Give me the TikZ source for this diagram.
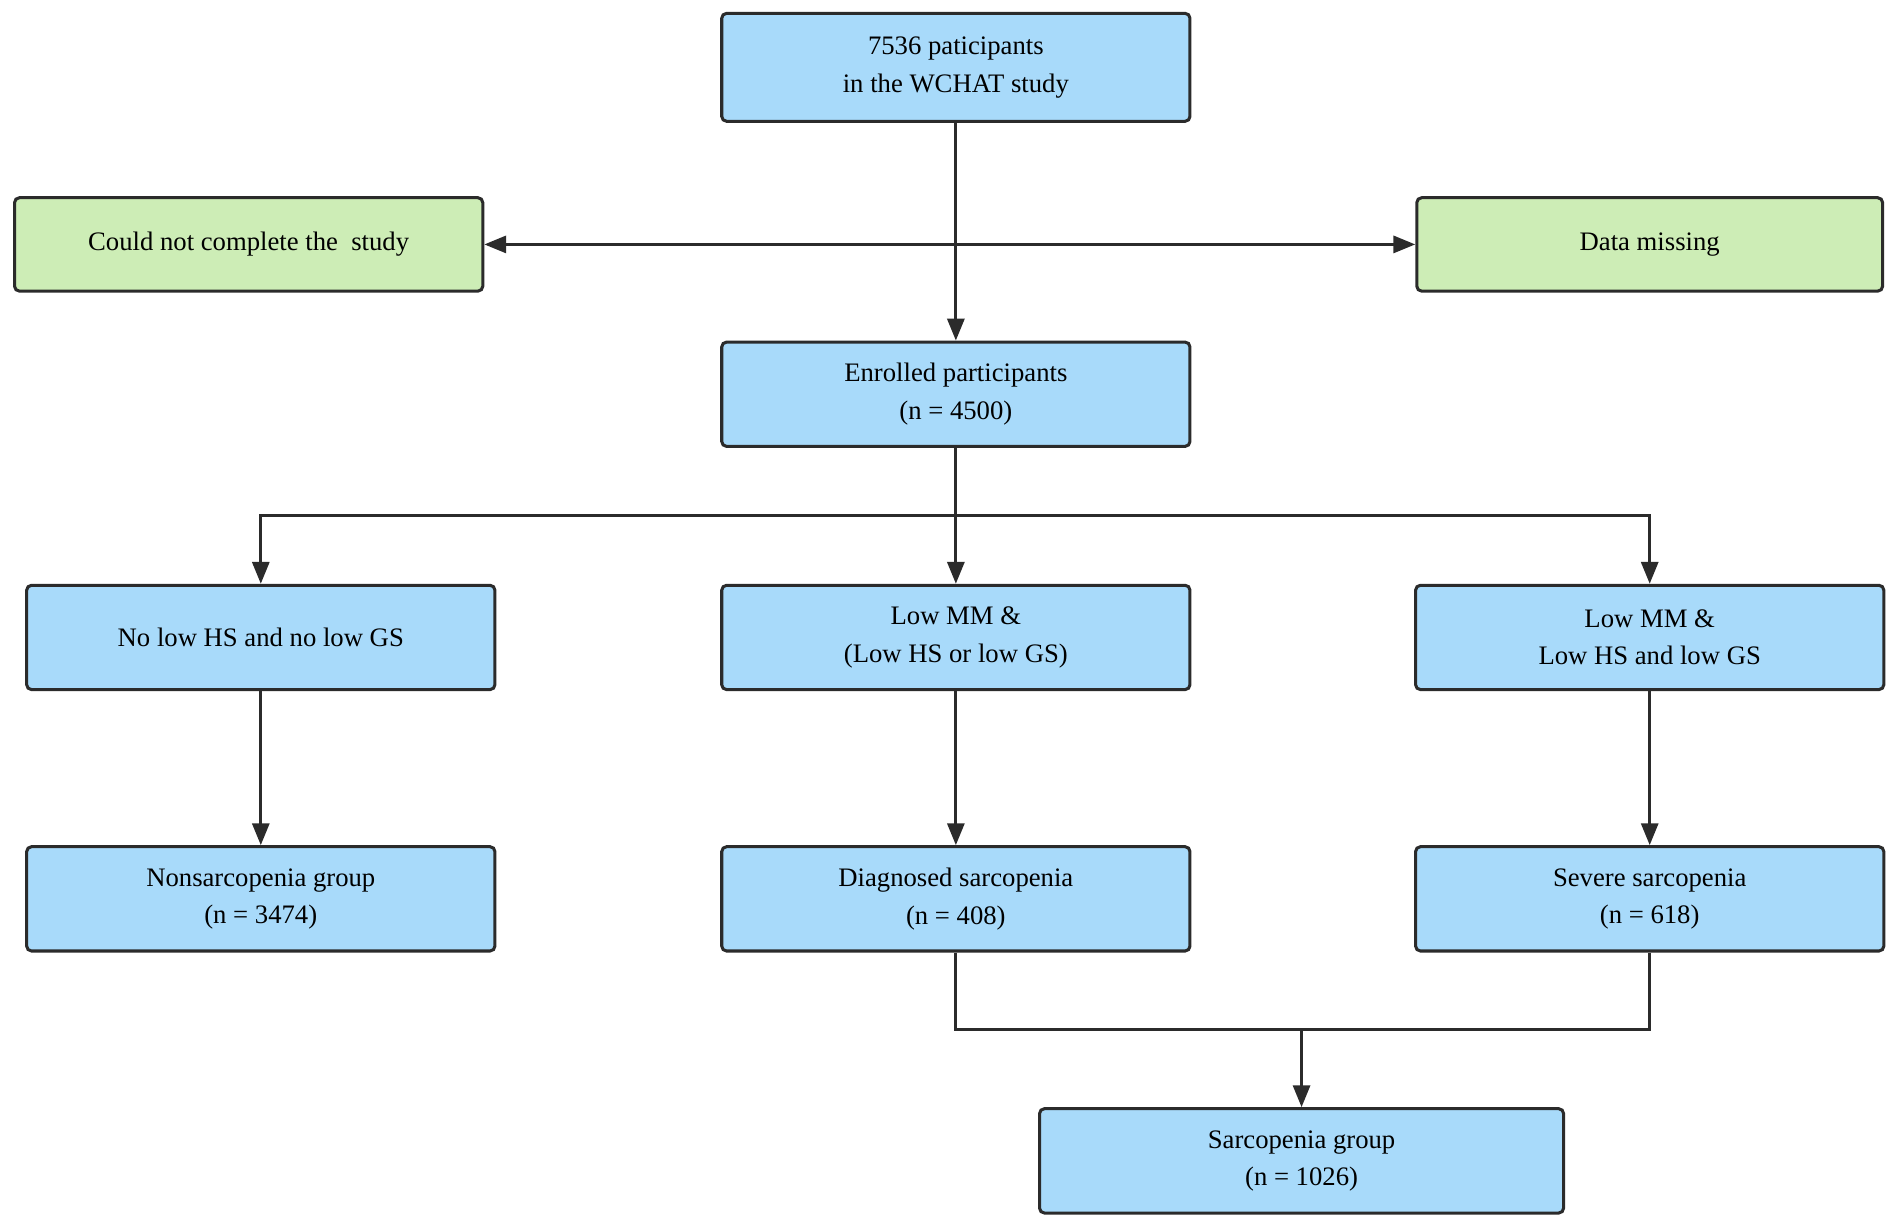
\documentclass[tikz,border=0pt]{standalone}
\usepackage{fontspec}
\setmainfont{Liberation Serif}
\usetikzlibrary{arrows.meta}
\definecolor{bbox}{HTML}{A8DAFA}
\definecolor{gbox}{HTML}{CDEDB6}
\definecolor{edge}{HTML}{2B2B2B}
\begin{document}
\begin{tikzpicture}[x=1pt,y=-1pt,
 box/.style={draw=edge,line width=2.5pt,rounded corners=4pt,fill=bbox,minimum height=86pt,align=center,font=\fontsize{22}{31}\selectfont,inner sep=0pt},
 w386/.style={minimum width=386pt},
 gb/.style={box,fill=gbox,minimum height=77pt,minimum width=386pt},
 ln/.style={draw=edge,line width=2.5pt},
 ar/.style={ln,-{Triangle[length=18pt,width=14pt]}}]
\useasboundingbox (0,0) rectangle (1568,1009);
\node[box,w386,minimum height=89pt] (top) at (788,55.5) {7536 paticipants\\in the WCHAT study};
\node[gb] (cnc) at (205,201.5) {Could not complete the\ \ study};
\node[gb,minimum width=384pt] (dm) at (1360,201.5) {Data missing};
\node[box,w386] (enr) at (788,325) {Enrolled participants\\(n = 4500)};
\node[box,w386] (a3) at (215,525.5) {No low HS and no low GS};
\node[box,w386] (b3) at (788,525.5) {Low MM \&\\(Low HS or low GS)};
\node[box,w386] (c3) at (1360,525.5) {Low MM \&\\Low HS and low GS};
\node[box,w386] (a4) at (215,741) {Nonsarcopenia group\\(n = 3474)};
\node[box,w386] (b4) at (788,741) {Diagnosed sarcopenia\\(n = 408)};
\node[box,w386] (c4) at (1360,741) {Severe sarcopenia\\(n = 618)};
\node[box,minimum width=432pt] (sg) at (1073,957) {Sarcopenia group\\(n = 1026)};
\coordinate (m1) at (788,201.5);
\coordinate (m2) at (788,425);
\coordinate (m3) at (1073,849);
\draw[ar] (top) -- (enr);
\draw[ar] (m1) -- (cnc);
\draw[ar] (m1) -- (dm);
\draw[ln] (enr) -- (m2);
\draw[ar] (m2) -| (a3);
\draw[ar] (m2) -- (b3);
\draw[ar] (m2) -| (c3);
\draw[ar] (a3) -- (a4);
\draw[ar] (b3) -- (b4);
\draw[ar] (c3) -- (c4);
\draw[ln] (b4) |- (m3);
\draw[ln] (c4) |- (m3);
\draw[ar] (m3) -- (sg);
\end{tikzpicture}
\end{document}
